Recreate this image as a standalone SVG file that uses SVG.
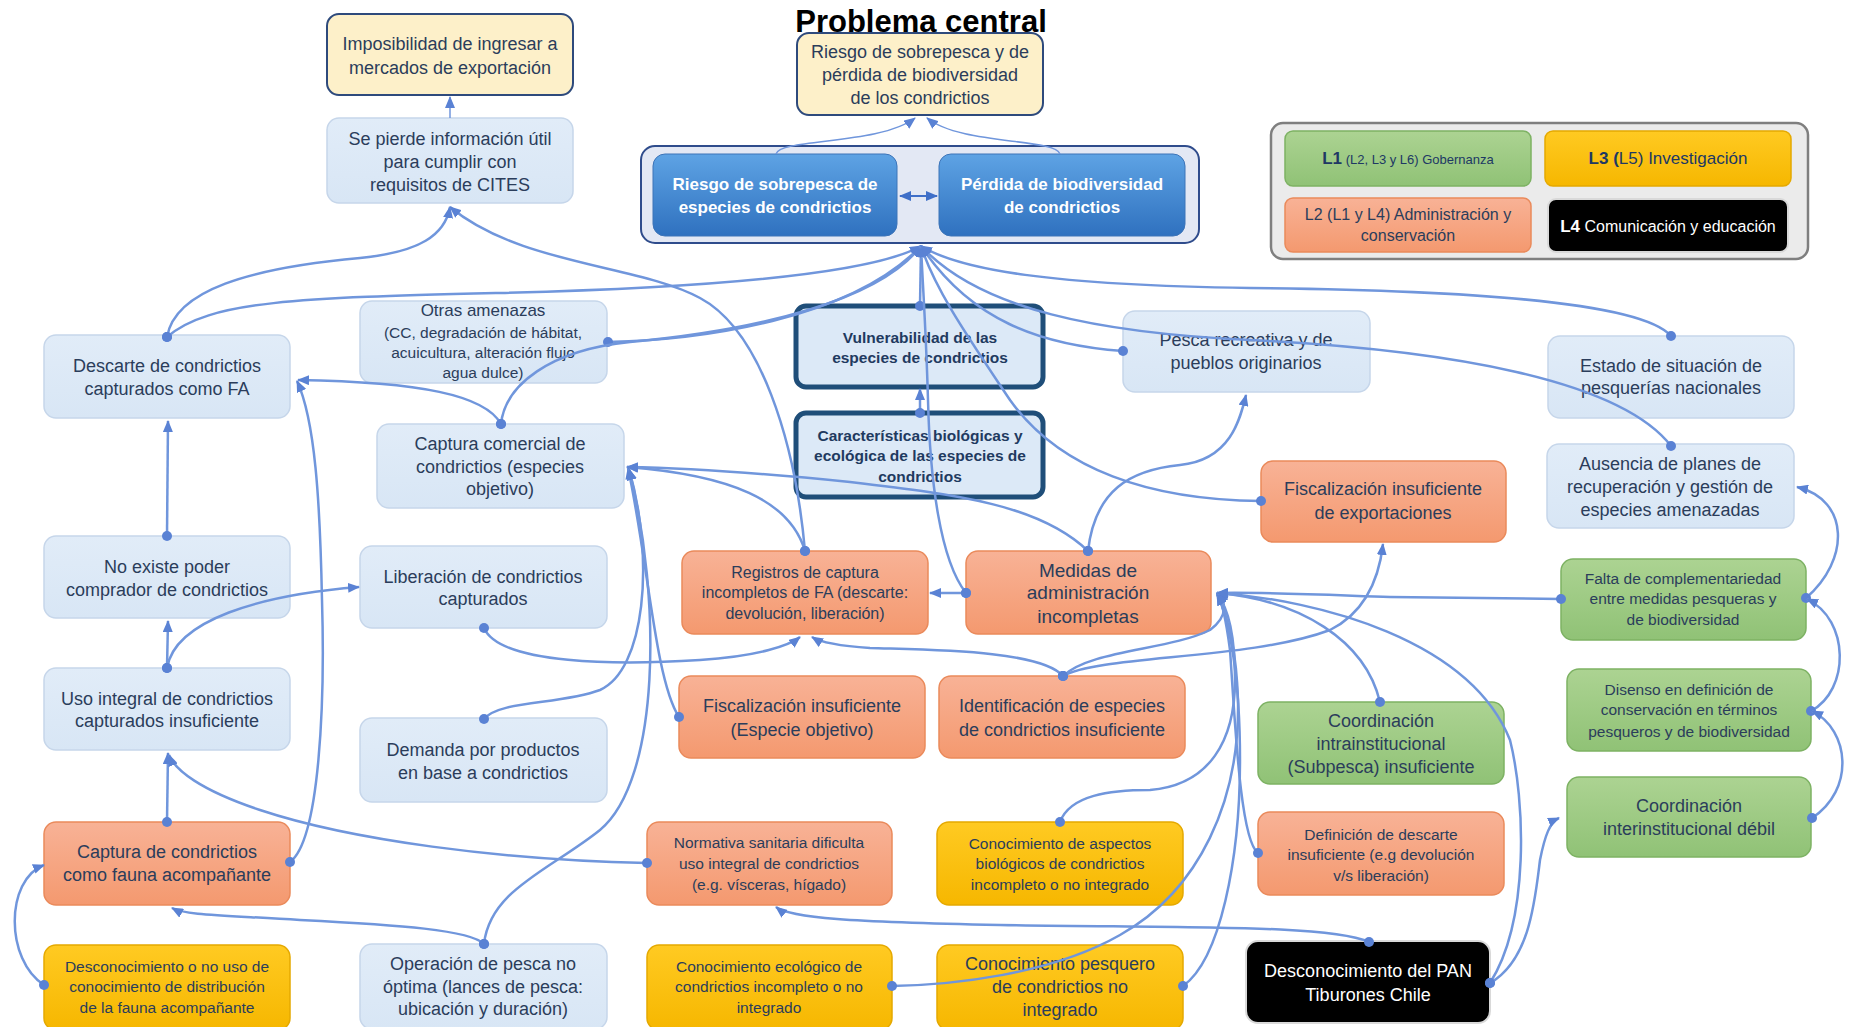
<svg xmlns="http://www.w3.org/2000/svg" width="1857" height="1027" viewBox="0 0 1857 1027">
<defs>
<style>
.t{font-family:'Liberation Sans Narrow','Liberation Sans',Arial,sans-serif;fill:#2b3d5b;text-anchor:middle}
.b{font-weight:bold}
.s{font-size:15.5px}
.m{font-size:18px}
.l{font-size:19px}
.w{fill:#ffffff}
.lb{fill:url(#gLB);stroke:#c6d6ea;stroke-width:1.5}
.or{fill:url(#gOR);stroke:#ea8a5b;stroke-width:1.5}
.gr{fill:url(#gGR);stroke:#7db263;stroke-width:1.5}
.go{fill:url(#gGO);stroke:#e5a900;stroke-width:1.5}
.py{fill:#fdf0c9;stroke:#2e4a7c;stroke-width:2}
.bk{fill:#000000;stroke:#d9d9d9;stroke-width:2}
.bl{fill:url(#gBL);stroke:#3d74b8;stroke-width:1}
.th{fill:#dce9f7;stroke:#1f4e79;stroke-width:5}
.c path{fill:none;stroke:#7096dc;stroke-width:2.5;marker-end:url(#arr)}
.c path.d{marker-start:url(#dot)}
</style>
<linearGradient id="gLB" x1="0" y1="0" x2="0" y2="1"><stop offset="0" stop-color="#e1ecf8"/><stop offset="1" stop-color="#d8e6f5"/></linearGradient>
<linearGradient id="gOR" x1="0" y1="0" x2="0" y2="1"><stop offset="0" stop-color="#f8b296"/><stop offset="1" stop-color="#f4996f"/></linearGradient>
<linearGradient id="gGR" x1="0" y1="0" x2="0" y2="1"><stop offset="0" stop-color="#acd392"/><stop offset="1" stop-color="#90c276"/></linearGradient>
<linearGradient id="gGO" x1="0" y1="0" x2="0" y2="1"><stop offset="0" stop-color="#ffca22"/><stop offset="1" stop-color="#f6b700"/></linearGradient>
<linearGradient id="gBL" x1="0" y1="0" x2="0" y2="1"><stop offset="0" stop-color="#5ea3e4"/><stop offset="1" stop-color="#2f71bf"/></linearGradient>
<marker id="arr" viewBox="0 0 12 10" refX="11" refY="5" markerWidth="12" markerHeight="10" markerUnits="userSpaceOnUse" orient="auto"><path d="M0,0 L12,5 L0,10 z" fill="#5a82d4"/></marker>
<marker id="arr2" viewBox="0 0 12 10" refX="11" refY="5" markerWidth="12" markerHeight="10" markerUnits="userSpaceOnUse" orient="auto-start-reverse"><path d="M0,0 L12,5 L0,10 z" fill="#3f6fc8"/></marker>
<marker id="dot" viewBox="0 0 10 10" refX="5" refY="5" markerWidth="10" markerHeight="10" markerUnits="userSpaceOnUse"><circle cx="5" cy="5" r="5" fill="#5a82d4"/></marker>
</defs>
<rect width="1857" height="1027" fill="#ffffff"/>

<text x="921" y="32" class="t b" style="font-size:31px;fill:#000000">Problema central</text>

<g id="n-imposibilidad"><rect x="327" y="14" width="246" height="81" rx="12" class="py"/>
<text class="t m"><tspan x="450" y="50">Imposibilidad de ingresar a</tspan><tspan x="450" y="74">mercados de exportación</tspan></text></g>

<g id="n-sepierde"><rect x="327" y="118" width="246" height="85" rx="12" class="lb"/>
<text class="t m"><tspan x="450" y="145">Se pierde información útil</tspan><tspan x="450" y="168">para cumplir con</tspan><tspan x="450" y="191">requisitos de CITES</tspan></text></g>

<g id="n-problema"><rect x="797" y="33" width="246" height="82" rx="12" class="py"/>
<text class="t m"><tspan x="920" y="58">Riesgo de sobrepesca y de</tspan><tspan x="920" y="81">pérdida de biodiversidad</tspan><tspan x="920" y="104">de los condrictios</tspan></text></g>

<g id="n-container"><rect x="641" y="146" width="558" height="97" rx="14" fill="#e3e8f4" stroke="#2f4c8c" stroke-width="2"/></g>

<g id="n-riesgo"><rect x="653" y="154" width="244" height="82" rx="12" class="bl"/>
<text class="t b w" style="font-size:17px"><tspan x="775" y="190">Riesgo de sobrepesca de</tspan><tspan x="775" y="213">especies de condrictios</tspan></text></g>

<g id="n-perdida"><rect x="939" y="154" width="246" height="82" rx="12" class="bl"/>
<text class="t b w" style="font-size:17px"><tspan x="1062" y="190">Pérdida de biodiversidad</tspan><tspan x="1062" y="213">de condrictios</tspan></text></g>

<g id="legend"><rect x="1271" y="123" width="537" height="136" rx="12" fill="#ebebeb" stroke="#7f7f7f" stroke-width="2.5"/>
<rect x="1285" y="131" width="246" height="55" rx="8" class="gr"/>
<text x="1408" y="164" class="t" style="font-size:13px;fill:#203864"><tspan class="b" style="font-size:17px">L1</tspan> (L2, L3 y L6) Gobernanza</text>
<rect x="1545" y="131" width="246" height="55" rx="8" class="go"/>
<text x="1668" y="164" class="t" style="font-size:17px;fill:#203864"><tspan class="b">L3 (</tspan>L5) Investigación</text>
<rect x="1285" y="198" width="246" height="54" rx="8" class="or"/>
<text class="t" style="font-size:16px"><tspan x="1408" y="220">L2 (L1 y L4) Administración y</tspan><tspan x="1408" y="241">conservación</tspan></text>
<rect x="1548" y="199" width="240" height="53" rx="8" class="bk" stroke="#ffffff"/>
<text x="1668" y="232" class="t w" style="font-size:16px"><tspan class="b" style="font-size:17px">L4</tspan> Comunicación y educación</text></g>

<g id="n-otras"><rect x="360" y="301" width="247" height="82" rx="12" class="lb"/>
<text class="t s"><tspan x="483" y="316" style="font-size:17px">Otras amenazas</tspan><tspan x="483" y="338">(CC, degradación de hábitat,</tspan><tspan x="483" y="358">acuicultura, alteración flujo</tspan><tspan x="483" y="378">agua dulce)</tspan></text></g>

<g id="n-descarte"><rect x="44" y="335" width="246" height="83" rx="12" class="lb"/>
<text class="t m"><tspan x="167" y="372">Descarte de condrictios</tspan><tspan x="167" y="395">capturados como FA</tspan></text></g>

<g id="n-vulnerabilidad"><rect x="796" y="306" width="247" height="81" rx="10" class="th"/>
<text class="t b s" style="fill:#1f3a60"><tspan x="920" y="343">Vulnerabilidad de las</tspan><tspan x="920" y="363">especies de condrictios</tspan></text></g>

<g id="n-pesca"><rect x="1123" y="311" width="247" height="81" rx="12" class="lb"/>
<text class="t m"><tspan x="1246" y="346">Pesca recreativa y de</tspan><tspan x="1246" y="369">pueblos originarios</tspan></text></g>

<g id="n-estado"><rect x="1548" y="336" width="246" height="82" rx="12" class="lb"/>
<text class="t m"><tspan x="1671" y="372">Estado de situación de</tspan><tspan x="1671" y="394">pesquerías nacionales</tspan></text></g>

<g id="n-capturacomercial"><rect x="377" y="424" width="247" height="84" rx="12" class="lb"/>
<text class="t m"><tspan x="500" y="450">Captura comercial de</tspan><tspan x="500" y="473">condrictios (especies</tspan><tspan x="500" y="495">objetivo)</tspan></text></g>

<g id="n-caracteristicas"><rect x="796" y="413" width="247" height="84" rx="10" class="th"/>
<text class="t b s" style="fill:#1f3a60"><tspan x="920" y="441">Características biológicas y</tspan><tspan x="920" y="461">ecológica de las especies de</tspan><tspan x="920" y="482">condrictios</tspan></text></g>

<g id="n-fiscexport"><rect x="1261" y="461" width="245" height="81" rx="12" class="or"/>
<text class="t m"><tspan x="1383" y="495">Fiscalización insuficiente</tspan><tspan x="1383" y="519">de exportaciones</tspan></text></g>

<g id="n-ausencia"><rect x="1547" y="444" width="247" height="84" rx="12" class="lb"/>
<text class="t m"><tspan x="1670" y="470">Ausencia de planes de</tspan><tspan x="1670" y="493">recuperación y gestión de</tspan><tspan x="1670" y="516">especies amenazadas</tspan></text></g>

<g id="n-noexiste"><rect x="44" y="536" width="246" height="82" rx="12" class="lb"/>
<text class="t m"><tspan x="167" y="573">No existe poder</tspan><tspan x="167" y="596">comprador de condrictios</tspan></text></g>

<g id="n-liberacion"><rect x="360" y="546" width="247" height="82" rx="12" class="lb"/>
<text class="t m"><tspan x="483" y="583">Liberación de condrictios</tspan><tspan x="483" y="605">capturados</tspan></text></g>

<g id="n-registros"><rect x="682" y="551" width="246" height="83" rx="12" class="or"/>
<text class="t" style="font-size:16px"><tspan x="805" y="578">Registros de captura</tspan><tspan x="805" y="598">incompletos de FA (descarte:</tspan><tspan x="805" y="619">devolución, liberación)</tspan></text></g>

<g id="n-medidas"><rect x="966" y="551" width="245" height="83" rx="12" class="or"/>
<text class="t l"><tspan x="1088" y="577">Medidas de</tspan><tspan x="1088" y="599">administración</tspan><tspan x="1088" y="623">incompletas</tspan></text></g>

<g id="n-falta"><rect x="1561" y="559" width="245" height="81" rx="12" class="gr"/>
<text class="t s"><tspan x="1683" y="584">Falta de complementariedad</tspan><tspan x="1683" y="604">entre medidas pesqueras y</tspan><tspan x="1683" y="625">de biodiversidad</tspan></text></g>

<g id="n-usointegral"><rect x="44" y="668" width="246" height="82" rx="12" class="lb"/>
<text class="t m"><tspan x="167" y="705">Uso integral de condrictios</tspan><tspan x="167" y="727">capturados insuficiente</tspan></text></g>

<g id="n-fiscespecie"><rect x="679" y="676" width="246" height="82" rx="12" class="or"/>
<text class="t m"><tspan x="802" y="712">Fiscalización insuficiente</tspan><tspan x="802" y="736">(Especie objetivo)</tspan></text></g>

<g id="n-identificacion"><rect x="939" y="676" width="246" height="82" rx="12" class="or"/>
<text class="t m"><tspan x="1062" y="712">Identificación de especies</tspan><tspan x="1062" y="736">de condrictios insuficiente</tspan></text></g>

<g id="n-coordintra"><rect x="1258" y="702" width="246" height="82" rx="12" class="gr"/>
<text class="t m"><tspan x="1381" y="727">Coordinación</tspan><tspan x="1381" y="750">intrainstitucional</tspan><tspan x="1381" y="773">(Subpesca) insuficiente</tspan></text></g>

<g id="n-disenso"><rect x="1567" y="669" width="244" height="82" rx="12" class="gr"/>
<text class="t s"><tspan x="1689" y="695">Disenso en definición de</tspan><tspan x="1689" y="715">conservación en términos</tspan><tspan x="1689" y="737">pesqueros y de biodiversidad</tspan></text></g>

<g id="n-demanda"><rect x="360" y="718" width="247" height="84" rx="12" class="lb"/>
<text class="t m"><tspan x="483" y="756">Demanda por productos</tspan><tspan x="483" y="779">en base a condrictios</tspan></text></g>

<g id="n-coordinter"><rect x="1567" y="777" width="244" height="80" rx="12" class="gr"/>
<text class="t m"><tspan x="1689" y="812">Coordinación</tspan><tspan x="1689" y="835">interinstitucional débil</tspan></text></g>

<g id="n-capturafa"><rect x="44" y="822" width="246" height="83" rx="12" class="or"/>
<text class="t m"><tspan x="167" y="858">Captura de condrictios</tspan><tspan x="167" y="881">como fauna acompañante</tspan></text></g>

<g id="n-normativa"><rect x="647" y="822" width="245" height="83" rx="12" class="or"/>
<text class="t s"><tspan x="769" y="848">Normativa sanitaria dificulta</tspan><tspan x="769" y="869">uso integral de condrictios</tspan><tspan x="769" y="890">(e.g. vísceras, hígado)</tspan></text></g>

<g id="n-conobiologico"><rect x="937" y="822" width="246" height="83" rx="12" class="go"/>
<text class="t s"><tspan x="1060" y="849">Conocimiento de aspectos</tspan><tspan x="1060" y="869">biológicos de condrictios</tspan><tspan x="1060" y="890">incompleto o no integrado</tspan></text></g>

<g id="n-definicion"><rect x="1258" y="812" width="246" height="83" rx="12" class="or"/>
<text class="t s"><tspan x="1381" y="840">Definición de descarte</tspan><tspan x="1381" y="860">insuficiente (e.g devolución</tspan><tspan x="1381" y="881">v/s liberación)</tspan></text></g>

<g id="n-desconfauna"><rect x="44" y="945" width="246" height="85" rx="12" class="go"/>
<text class="t s"><tspan x="167" y="972">Desconocimiento o no uso de</tspan><tspan x="167" y="992">conocimiento de distribución</tspan><tspan x="167" y="1013">de la fauna acompañante</tspan></text></g>

<g id="n-operacion"><rect x="360" y="944" width="247" height="85" rx="12" class="lb"/>
<text class="t m"><tspan x="483" y="970">Operación de pesca no</tspan><tspan x="483" y="993">óptima (lances de pesca:</tspan><tspan x="483" y="1015">ubicación y duración)</tspan></text></g>

<g id="n-conoecologico"><rect x="647" y="945" width="245" height="85" rx="12" class="go"/>
<text class="t s"><tspan x="769" y="972">Conocimiento ecológico de</tspan><tspan x="769" y="992">condrictios incompleto o no</tspan><tspan x="769" y="1013">integrado</tspan></text></g>

<g id="n-conopesquero"><rect x="937" y="945" width="246" height="85" rx="12" class="go"/>
<text class="t m"><tspan x="1060" y="970">Conocimiento pesquero</tspan><tspan x="1060" y="993">de condrictios no</tspan><tspan x="1060" y="1016">integrado</tspan></text></g>

<g id="n-pan"><rect x="1246" y="941" width="244" height="82" rx="12" class="bk"/>
<text class="t m w"><tspan x="1368" y="977">Desconocimiento del PAN</tspan><tspan x="1368" y="1001">Tiburones Chile</tspan></text></g>

<g id="connectors" class="c">
<path d="M450,118 L450,97" style="stroke-width:1.5"/>
<path class="d" d="M167,337 C175,290 250,268 360,258 C420,252 445,235 450,207"/>
<path class="d" d="M805,551 C795,440 760,330 700,298 C640,265 520,265 450,207"/>
<path d="M776,154 C780,138 880,145 915,118" style="stroke-width:1.5"/>
<path d="M1060,154 C1055,138 960,145 927,118" style="stroke-width:1.5"/>
<path d="M900,196 L937,196" style="stroke:#3f6fc8;stroke-width:2;marker-start:url(#arr2);marker-end:url(#arr2)"/>
<path class="d" d="M167,337 C210,300 300,298 500,293 C700,288 870,275 921,246"/>
<path class="d" d="M608,342 C700,340 850,320 921,246"/>
<path class="d" d="M501,424 C505,385 550,350 630,342 C760,330 880,300 921,246"/>
<path class="d" d="M501,424 C485,395 420,382 298,380"/>
<path class="d" d="M920,306 L921,246"/>
<path class="d" d="M920,413 L920,389"/>
<path class="d" d="M966,593 C940,560 930,480 928,400 C926,330 923,290 921,246"/>
<path class="d" d="M966,593 L930,593"/>
<path class="d" d="M1123,351 C1040,345 970,320 921,246"/>
<path class="d" d="M1261,501 C1150,500 1060,470 1010,400 C970,340 935,290 921,246"/>
<path class="d" d="M1671,336 C1640,300 1450,290 1250,288 C1050,285 960,270 921,246"/>
<path class="d" d="M1671,446 C1620,380 1450,350 1250,340 C1100,333 980,310 921,246"/>
<path class="d" d="M1088,551 C1095,490 1130,470 1180,465 C1230,460 1240,420 1246,395"/>
<path class="d" d="M805,551 C790,500 730,475 627,467"/>
<path class="d" d="M1088,551 C1040,505 960,495 850,482 C750,472 680,468 627,467"/>
<path class="d" d="M679,717 C655,680 648,560 628,468"/>
<path class="d" d="M484,719 C500,700 560,705 600,690 C645,670 655,560 629,469"/>
<path class="d" d="M484,944 C490,890 550,870 600,830 C660,780 662,600 629,469"/>
<path class="d" d="M484,944 C470,930 400,925 300,920 C220,915 185,915 172,908"/>
<path class="d" d="M484,628 C500,665 620,665 700,660 C760,656 790,645 800,637"/>
<path class="d" d="M1063,676 C1040,650 930,650 870,648 C840,646 820,642 812,637"/>
<path class="d" d="M1063,676 C1090,650 1170,650 1210,630 C1230,615 1225,600 1217,593"/>
<path class="d" d="M1063,676 C1100,655 1250,660 1330,630 C1370,610 1380,570 1383,544"/>
<path class="d" d="M1561,599 L1390,597 C1330,595 1270,592 1217,593"/>
<path class="d" d="M1380,702 C1365,640 1300,600 1217,593"/>
<path class="d" d="M1258,853 C1240,840 1235,720 1230,650 C1226,620 1222,600 1217,594"/>
<path class="d" d="M1183,986 C1220,960 1240,860 1240,760 C1240,680 1230,620 1217,594"/>
<path class="d" d="M892,986 C950,985 1050,975 1120,935 C1200,890 1240,800 1238,700 C1236,640 1225,610 1217,594"/>
<path class="d" d="M1060,822 C1070,795 1110,790 1150,790 C1210,785 1235,740 1235,680 C1235,630 1226,605 1217,594"/>
<path class="d" d="M1490,983 C1530,920 1525,800 1510,740 C1470,640 1320,600 1217,593"/>
<path class="d" d="M1490,983 C1530,960 1535,900 1540,860 C1545,835 1550,822 1559,818"/>
<path class="d" d="M1369,942 C1330,925 1200,928 1000,925 C850,922 790,918 776,907"/>
<path class="d" d="M1806,598 C1850,560 1850,500 1797,487"/>
<path class="d" d="M1811,711 C1850,690 1850,620 1807,599"/>
<path class="d" d="M1812,818 C1855,790 1850,730 1812,711"/>
<path class="d" d="M167,536 L168,421"/>
<path class="d" d="M167,668 L168,621"/>
<path class="d" d="M167,668 C175,620 260,595 359,587"/>
<path class="d" d="M167,822 L168,753"/>
<path class="d" d="M290,862 C320,840 325,700 322,600 C320,500 315,420 297,381"/>
<path class="d" d="M647,863 C500,860 350,840 260,810 C200,790 175,770 169,755"/>
<path class="d" d="M44,985 C5,960 5,880 44,865"/>
</g>
</svg>
